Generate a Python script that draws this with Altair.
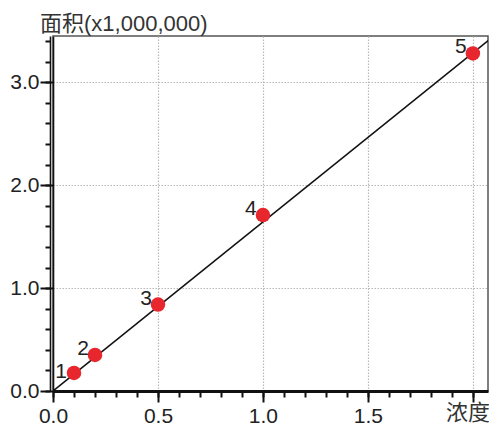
import altair as alt
import pandas as pd

# data
conc = [0.1, 0.2, 0.5, 1.0, 2.0]
area = [0.175, 0.35, 0.84, 1.71, 3.28]
point_labels = ["1", "2", "3", "4", "5"]
fit_x = [0.0, 2.1]
fit_y = [0.0, 3.45]
x_major = [0.0, 0.5, 1.0, 1.5, 2.0]
x_minor = [round(i * 0.1, 1) for i in range(0, 21)]
y_major = [0.0, 1.0, 2.0, 3.0]
y_minor = [round(i * 0.2, 1) for i in range(0, 18)]

pts = pd.DataFrame({"c": conc, "a": area, "lab": point_labels})
fit = pd.DataFrame({"c": fit_x, "a": fit_y})

FONT = "Liberation Sans, Arial, 'Noto Sans CJK SC'"
xs = alt.Scale(domain=[0, 2.072], nice=False, zero=False)
ys = alt.Scale(domain=[0, 3.45], nice=False, zero=False)

major = alt.Chart(pts).mark_point(opacity=0).encode(
    x=alt.X("c:Q", scale=xs, title=None,
            axis=alt.Axis(values=x_major, orient="bottom",
                          labelExpr="datum.value >= 2 ? '' : format(datum.value, '.1f')",
                          labelFontSize=21, labelFont=FONT,
                          labelColor="#222", tickSize=11, tickWidth=2, tickColor="#111",
                          domainWidth=3, domainColor="#111", grid=True, gridDash=[1.5, 1.5],
                          gridColor="#b8b8b8", gridWidth=1.2, labelPadding=3, labelFlush=False)),
    y=alt.Y("a:Q", scale=ys, title=None,
            axis=alt.Axis(values=y_major, orient="left", format=".1f", labelFontSize=21, labelFont=FONT,
                          labelColor="#222", tickSize=13, tickWidth=2, tickColor="#111",
                          domainWidth=1.6, domainColor="#111", grid=True, gridDash=[1.5, 1.5],
                          gridColor="#b8b8b8", gridWidth=1.2, labelPadding=1, labelFlush=False)),
)

minor = alt.Chart(pts).mark_point(opacity=0).encode(
    x=alt.X("c:Q", scale=xs, title=None,
            axis=alt.Axis(values=x_minor, orient="bottom", labels=False, tickSize=6, tickWidth=2,
                          tickColor="#111", domain=False, grid=False)),
    y=alt.Y("a:Q", scale=ys, title=None,
            axis=alt.Axis(values=y_minor, orient="left", labels=False, tickSize=5, tickWidth=2,
                          tickColor="#111", domain=True, domainWidth=1.6, domainColor="#111",
                          offset=3, grid=False)),
)

line = alt.Chart(fit).mark_line(color="#111", strokeWidth=1.6, clip=True).encode(
    x=alt.X("c:Q", scale=xs, axis=None),
    y=alt.Y("a:Q", scale=ys, axis=None),
)

dots = alt.Chart(pts).mark_circle(size=210, color="#e8262d", opacity=1).encode(
    x=alt.X("c:Q", scale=xs, axis=None),
    y=alt.Y("a:Q", scale=ys, axis=None),
)

labels = alt.Chart(pts).transform_filter("datum.lab != '1'").mark_text(
    fontSize=21, font=FONT, color="#222", dx=-12, dy=-6
).encode(
    x=alt.X("c:Q", scale=xs, axis=None),
    y=alt.Y("a:Q", scale=ys, axis=None),
    text="lab:N",
)

label1 = alt.Chart(pts).transform_filter("datum.lab == '1'").mark_text(
    fontSize=21, font=FONT, color="#222", dx=-13, dy=-1
).encode(
    x=alt.X("c:Q", scale=xs, axis=None),
    y=alt.Y("a:Q", scale=ys, axis=None),
    text="lab:N",
)

ytitle = alt.Chart(pd.DataFrame({"t": ["面积(x1,000,000)"]})).mark_text(
    fontSize=22, font=FONT, color="#333", align="left", baseline="alphabetic"
).encode(x=alt.value(-13), y=alt.value(-5), text="t:N")

xtitle = alt.Chart(pd.DataFrame({"t": ["浓度"]})).mark_text(
    fontSize=22, font="'Noto Sans CJK SC'", color="#333", align="right", baseline="middle"
).encode(x=alt.value(437), y=alt.value(377), text="t:N")

chart = alt.layer(major, minor, line, dots, labels, label1, ytitle, xtitle).resolve_axis(
    x="independent", y="independent"
).properties(
    width=435, height=355,
    autosize=alt.AutoSizeParams(type="none"),
    padding={"left": 45, "top": 28, "right": 1, "bottom": 32},
).configure_view(stroke="#555", strokeWidth=1.5)

chart.save("out.html", embed_options={"renderer": "svg", "actions": False})
